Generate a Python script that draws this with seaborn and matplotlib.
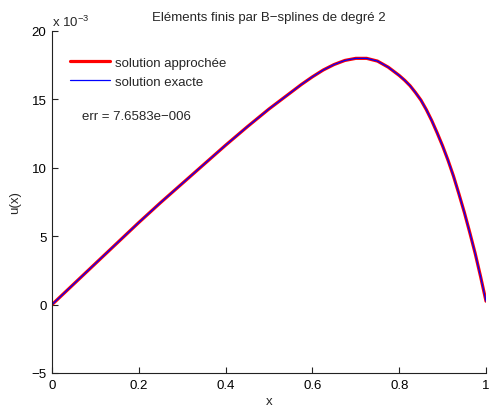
import matplotlib
matplotlib.use("Agg")
import matplotlib.pyplot as plt
from matplotlib.ticker import FuncFormatter
import seaborn as sns
import pandas as pd

# Sample points of the solution u(x) on [0, 1]
x_vals = [0.0, 0.05, 0.1, 0.15, 0.2, 0.25, 0.3, 0.35, 0.4, 0.45, 0.5, 0.55,
          0.575, 0.6, 0.625, 0.65, 0.675, 0.7, 0.725, 0.75, 0.775, 0.8,
          0.8125, 0.825, 0.8375, 0.85, 0.8625, 0.875, 0.8875, 0.9, 0.9125,
          0.925, 0.9375, 0.95, 0.9625, 0.975, 0.9875, 1.0]
u_exact = [0.0, 1.5e-3, 3.0e-3, 4.5e-3, 6.0e-3, 7.45e-3, 8.85e-3, 10.25e-3,
           11.65e-3, 13.0e-3, 14.3e-3, 15.5e-3, 16.1e-3, 16.65e-3, 17.15e-3,
           17.55e-3, 17.85e-3, 18.0e-3, 18.0e-3, 17.8e-3, 17.35e-3, 16.75e-3,
           16.4e-3, 16.0e-3, 15.5e-3, 14.95e-3, 14.25e-3, 13.45e-3, 12.55e-3,
           11.6e-3, 10.55e-3, 9.4e-3, 8.1e-3, 6.75e-3, 5.28e-3, 3.75e-3,
           2.05e-3, 0.25e-3]
u_approx = list(u_exact)

x_ticks = [0, 0.2, 0.4, 0.6, 0.8, 1]
y_ticks = [-5e-3, 0, 5e-3, 10e-3, 15e-3, 20e-3]
title = "Eléments finis par B\u2212splines de degré 2"
err_text = "err = 7.6583e\u2212006"
labels = ["solution approchée", "solution exacte"]

sns.set_style("ticks")
plt.rcParams["font.family"] = ["Liberation Sans", "DejaVu Sans"]
plt.rcParams["mathtext.fontset"] = "custom"
plt.rcParams["mathtext.rm"] = "Liberation Sans"
plt.rcParams["mathtext.it"] = "Liberation Sans"
plt.rcParams["font.size"] = 9.5
plt.rcParams["xtick.direction"] = "in"
plt.rcParams["ytick.direction"] = "in"

df = pd.DataFrame({"x": x_vals, "approx": u_approx, "exact": u_exact})

fig = plt.figure(figsize=(4.94, 4.10), dpi=100)
ax = fig.add_axes([52 / 494, 1 - 374 / 410, 434 / 494, 342 / 410])

sns.lineplot(data=df, x="x", y="approx", ax=ax, color="#ff0000", lw=2.3,
             label=labels[0], estimator=None, sort=False)
sns.lineplot(data=df, x="x", y="exact", ax=ax, color="#0000ff", lw=0.9,
             label=labels[1], estimator=None, sort=False)

ax.set_xlim(0, 1)
ax.set_ylim(-5e-3, 20e-3)
ax.set_xticks(x_ticks)
ax.set_yticks(y_ticks)
ax.xaxis.set_major_formatter(FuncFormatter(lambda v, p: f"{v:g}"))
ax.yaxis.set_major_formatter(
    FuncFormatter(lambda v, p: f"{v * 1e3:.0f}".replace("-", "\u2212")))
ax.tick_params(length=4, width=0.8, colors="#222222", labelcolor="black",
               labelsize=9.5, pad=4)
for side in ("top", "right"):
    ax.spines[side].set_visible(False)
for side in ("left", "bottom"):
    ax.spines[side].set_linewidth(0.8)
    ax.spines[side].set_color("#222222")

ax.set_xlabel("x", fontsize=9.5, labelpad=3)
ax.set_ylabel("u(x)", fontsize=9.5, labelpad=7)
ax.set_title(title, fontsize=9.5, pad=8)

ax.text(0.0, 1.005, "x 10$^{\\mathregular{\u22123}}$", transform=ax.transAxes,
        ha="left", va="bottom", fontsize=9.5)

ax.text(0.069, 13.8e-3, err_text, ha="left", va="center", fontsize=9.5)

leg = ax.legend(loc="upper left", bbox_to_anchor=(0.03, 0.94), frameon=False,
                handlelength=3.0, handletextpad=0.4, labelspacing=0.5,
                fontsize=9.5, borderaxespad=0.0)

fig.savefig("out.png", dpi=100)
